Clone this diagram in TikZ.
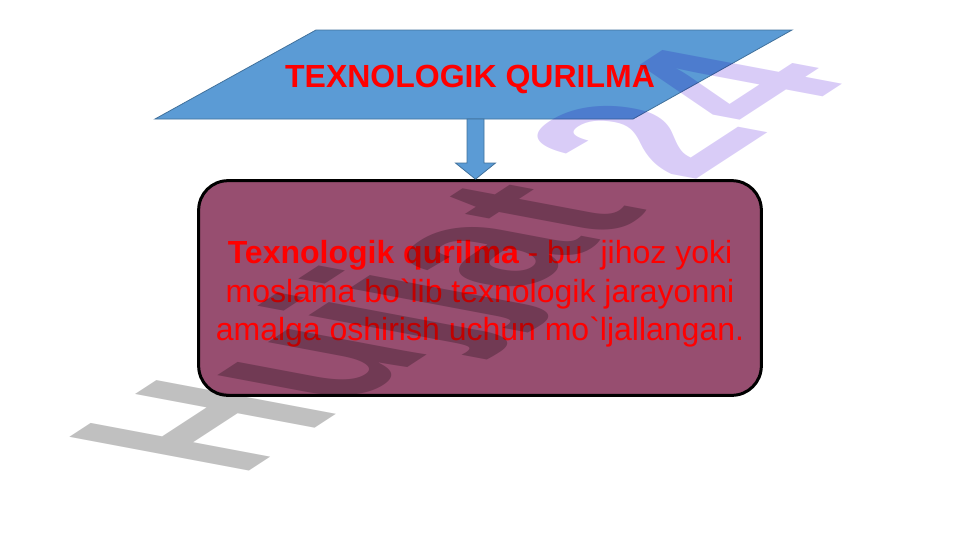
\documentclass[tikz,border=0pt]{standalone}
\usepackage{fontspec}
\setmainfont{Liberation Sans}
\usetikzlibrary{calc}
\definecolor{plblue}{RGB}{91,155,213}
\definecolor{pledge}{RGB}{65,113,156}
\definecolor{boxfill}{RGB}{151,78,112}
\definecolor{wmgrey}{RGB}{192,192,192}
\definecolor{wmlav}{RGB}{217,204,247}

\begin{document}
\begin{tikzpicture}[x=0.75pt, y=-0.75pt,
  main/.style = {draw, line width=2.25pt, rounded corners=22pt, fill=boxfill, minimum width=422pt, minimum height=161pt},
  body/.style = {text=red, align=center, font=\fontsize{24}{29}\selectfont},
  head/.style = {text=red, font=\fontsize{24}{28}\selectfont\bfseries},
  blue/.style = {fill=plblue, draw=pledge, line width=0.6pt}]
	\useasboundingbox (0,0) rectangle (961,540);
	\coordinate (p1) at (155,119);
	\coordinate (p2) at (316,30);
	\coordinate (p3) at (792,30);
	\coordinate (p4) at (633,119);
	\draw[blue] (p1) -- (p2) -- (p3) -- (p4) -- cycle;
	\node (1) [head] at (470,79) {TEXNOLOGIK QURILMA};
	\node (2) [main] at (480,288) {};
	\node (3) [body] at ($(2.center)+(0,6)$) {{\bfseries Texnologik qurilma} - bu\ \ jihoz yoki\\ moslama bo\textasciigrave lib texnologik jarayonni\\ amalga oshirish uchun mo\textasciigrave ljallangan.};
	% block arrow down to the box
	\coordinate (a) at (475.5,119);
	\draw[blue] ($(a)+(-8.5,0)$) -- ($(a)+(8.5,0)$) -- ($(a)+(8.5,44)$) -- ($(a)+(20,44)$) -- (a |- 2.north) -- ($(a)+(-20,44)$) -- ($(a)+(-8.5,44)$) -- cycle;
	% watermark
	\begin{scope}[shift={(238,478)}, cm={5.55,3.62,-9.79,1.84,(0,0)}, blend mode=multiply]
		\node (wm) [transform shape, anchor=base west, inner sep=0pt, font=\fontsize{20}{20}\selectfont\bfseries] at (0,0) {\textcolor{wmgrey}{Hujjat} \textcolor{wmlav}{24}};
	\end{scope}
\end{tikzpicture}
\end{document}
